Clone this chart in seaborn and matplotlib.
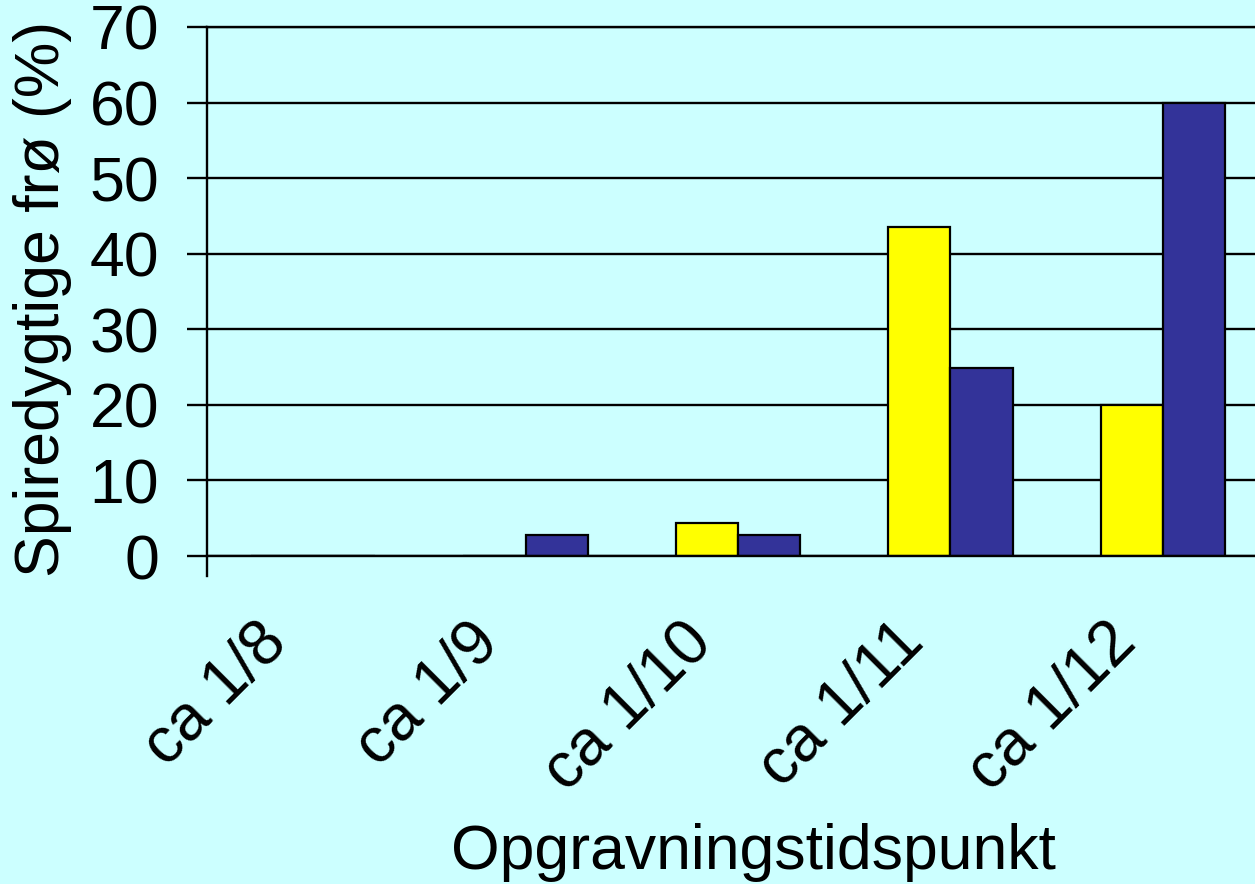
import pandas as pd
import numpy as np
import matplotlib
matplotlib.use("Agg")
import matplotlib.pyplot as plt
import matplotlib.transforms as mtransforms
import seaborn as sns

# data
categories = ["ca 1/8", "ca 1/9", "ca 1/10", "ca 1/11", "ca 1/12"]
series_names = ["Serie 1", "Serie 2"]
yellow_values = [0, 0, 4.4, 43.6, 20]
blue_values = [0, 2.8, 2.8, 24.9, 60]
y_ticks = [0, 10, 20, 30, 40, 50, 60, 70]

df = pd.DataFrame({
    "category": categories * 2,
    "series": [series_names[0]] * len(categories) + [series_names[1]] * len(categories),
    "value": yellow_values + blue_values,
})

sns.set_style("white")
plt.rcParams["font.family"] = ["Liberation Sans", "DejaVu Sans"]
plt.rcParams["text.color"] = "black"
plt.rcParams["axes.labelcolor"] = "black"
plt.rcParams["xtick.color"] = "black"
plt.rcParams["ytick.color"] = "black"

bg = "#CCFFFF"
fig = plt.figure(figsize=(12.55, 8.84), dpi=100, facecolor=bg)
ax = fig.add_axes([207 / 1255, 328 / 884, 1062 / 1255, 529 / 884])
ax.set_facecolor(bg)

# gridlines behind the bars
ax.set_axisbelow(True)
ax.yaxis.grid(True, color="black", linewidth=1.7)

sns.barplot(data=df, x="category", y="value", hue="series",
            order=categories, hue_order=series_names,
            palette=["#FFFF00", "#333399"], saturation=1, width=0.585,
            edgecolor="black", linewidth=1.6, legend=False, ax=ax)

ax.set_xlim(-0.5, len(categories) - 0.5)
ax.set_ylim(0, 70)
ax.set_yticks(y_ticks)

ax.spines["right"].set_visible(False)
for s in ["top", "left", "bottom"]:
    ax.spines[s].set_linewidth(1.7)
    ax.spines[s].set_color("black")
ax.spines["left"].set_bounds(-2.65, 70)

# labels at category centres, tick marks at boundaries
ax.set_xticks(range(len(categories)))
ax.set_xticklabels(categories)
ax.set_xticks(np.arange(-0.5, len(categories), 1.0), minor=True)
ax.tick_params(axis="x", which="major", length=0, pad=28, labelsize=46, labelcolor="black")
ax.tick_params(axis="x", which="minor", length=14.5, width=1.7, color="black", direction="out")
ax.tick_params(axis="y", length=14.5, width=1.7, color="black", direction="out",
               pad=20, labelsize=45, labelcolor="black", left=True)

shift = mtransforms.ScaledTranslation(-36 / 100, -38 / 100, fig.dpi_scale_trans)
for lab in ax.get_xticklabels():
    lab.set_rotation(45)
    lab.set_ha("right")
    lab.set_va("center")
    lab.set_rotation_mode("anchor")
    lab.set_transform(lab.get_transform() + shift)

ax.set_xlabel("Opgravningstidspunkt", fontsize=45)
ax.set_ylabel("Spiredygtige frø (%)", fontsize=45)
ax.xaxis.set_label_coords(0.515, -0.505)
ax.yaxis.set_label_coords(-0.127, 0.486)

fig.savefig("out.png", dpi=100, facecolor=bg)
